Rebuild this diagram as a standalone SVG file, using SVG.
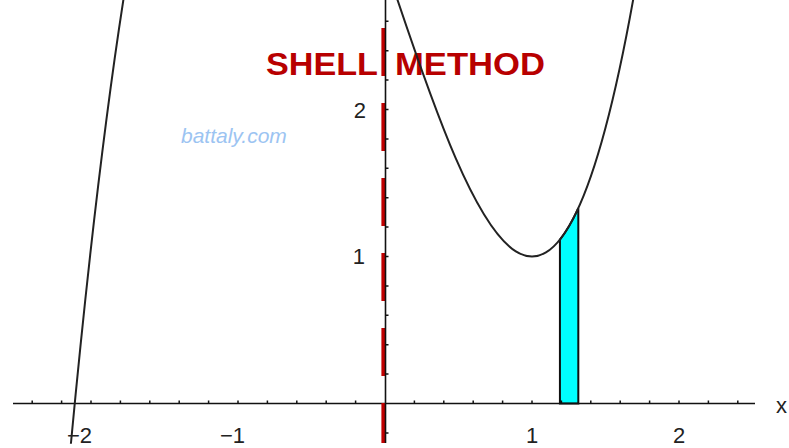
<svg xmlns="http://www.w3.org/2000/svg" width="789" height="448" viewBox="0 0 789 448">
<style>
.lbl{font-family:"Liberation Sans",Arial,sans-serif;font-size:22px;fill:#222}
.title{font-family:"Liberation Sans",Arial,sans-serif;font-size:31px;font-weight:bold;fill:#b80000}
.wm{font-family:"Liberation Sans",Arial,sans-serif;font-size:21px;font-style:italic;fill:#9cc4f2}
.axis{stroke:#111;stroke-width:1.6;fill:none}
.tick{stroke:#111;stroke-width:1.5}
.curve{stroke:#222;stroke-width:2;fill:none}
</style>
<rect width="789" height="448" fill="#fff"/>
<g id="title">
<text class="title"><tspan x="266" y="75" textLength="112" lengthAdjust="spacingAndGlyphs">SHELL</tspan><tspan x="395" y="75" textLength="150" lengthAdjust="spacingAndGlyphs">METHOD</tspan></text>
</g>
<g id="watermark"><text class="wm" x="181" y="143">battaly.com</text></g>
<g id="strip">
<path d="M559.93 403.5 L559.93 239.57 C566.05 231.93 572.18 221.55 578.31 208.15 L578.31 403.5 Z" fill="#00ffff" stroke="#111" stroke-width="2"/>
</g>
<g id="axes">
<line class="axis" x1="13" y1="403.5" x2="755" y2="403.5"/>
<line x1="383.2" y1="28" x2="383.2" y2="443" stroke="#c00000" stroke-width="3.6" stroke-dasharray="48 27"/>
<line class="axis" x1="385.5" y1="0" x2="385.5" y2="443"/>
<path class="tick" d="M32.2 403.5v-3M61.6 403.5v-3M91 403.5v-3M120.4 403.5v-3M149.8 403.5v-3M179.2 403.5v-3M208.6 403.5v-3M238 403.5v-3M267.4 403.5v-3M296.8 403.5v-3M326.2 403.5v-3M355.6 403.5v-3M414.4 403.5v-3M443.8 403.5v-3M473.2 403.5v-3M502.6 403.5v-3M532 403.5v-3M561.4 403.5v-3M590.8 403.5v-3M620.2 403.5v-3M649.6 403.5v-3M679 403.5v-3M708.4 403.5v-3M737.8 403.5v-3"/>
<path class="tick" d="M385.5 433h3M385.5 374.1h3M385.5 344.7h3M385.5 315.3h3M385.5 285.9h3M385.5 256.5h3M385.5 227.1h3M385.5 197.7h3M385.5 168.3h3M385.5 138.9h3M385.5 109.5h3M385.5 80.1h3M385.5 50.7h3M385.5 21.3h3"/>
</g>
<g id="labels">
<text class="lbl" x="67" y="443">−2</text>
<text class="lbl" x="220" y="443">−1</text>
<text class="lbl" x="532" y="443" text-anchor="middle">1</text>
<text class="lbl" x="679" y="443" text-anchor="middle">2</text>
<text class="lbl" x="776" y="413">x</text>
<text class="lbl" x="365" y="264" text-anchor="end">1</text>
<text class="lbl" x="366" y="118" text-anchor="end">2</text>
</g>
<g id="curve">
<path class="curve" d="M70.89 443.72 C89.51 246.15 108.13 93.79 126.75 -21.42"/>
<path class="curve" d="M395.29 -6.68 C475.65 233.22 556.01 445.44 636.37 -18.42"/>
</g>
</svg>
